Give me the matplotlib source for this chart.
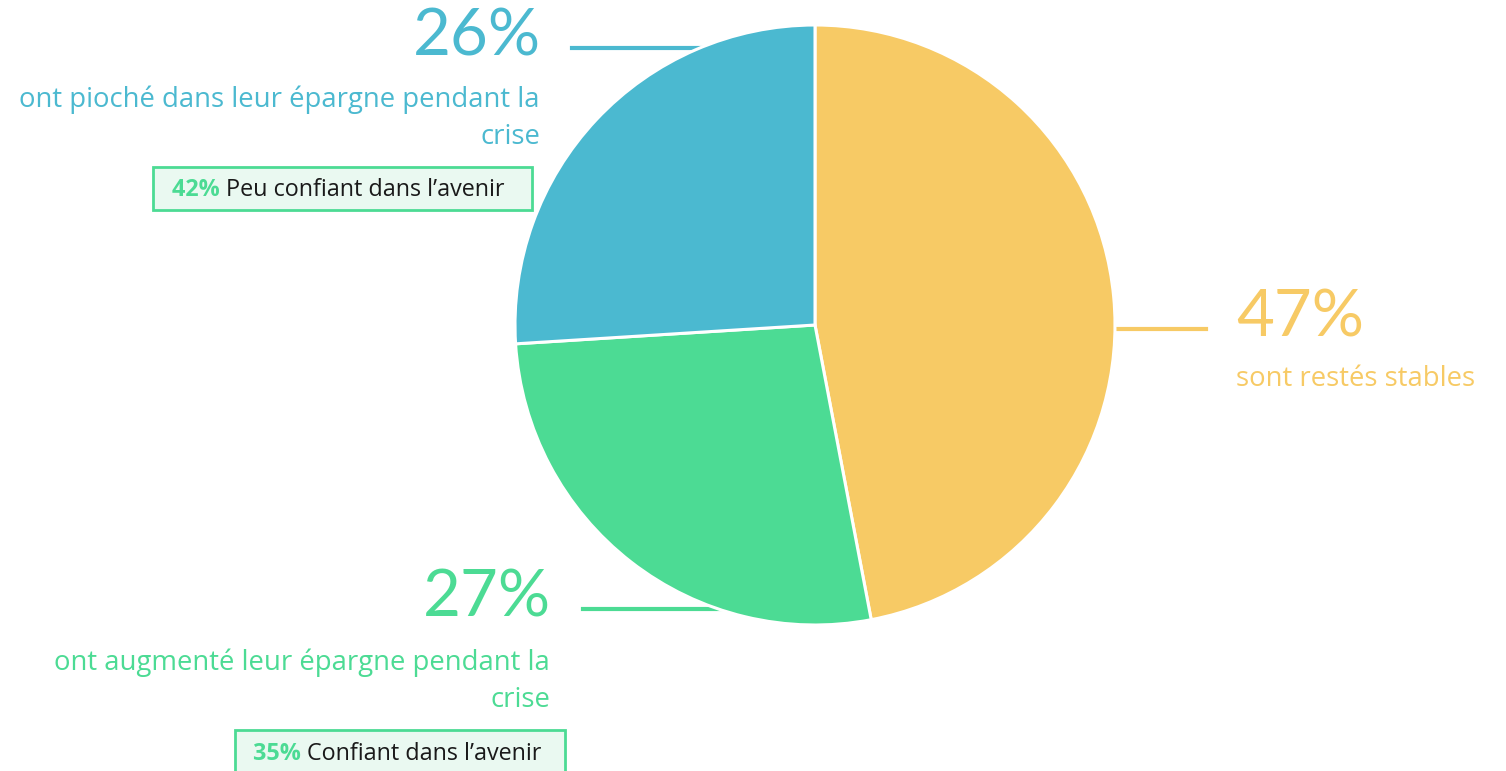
import matplotlib.pyplot as plt
from matplotlib.patches import Rectangle

plt.rcParams["font.family"] = ["Lato", "DejaVu Sans"]

labels = ["sont restés stables", "ont augmenté leur épargne pendant la\ncrise",
          "ont pioché dans leur épargne pendant la\ncrise"]
shares = [47, 27, 26]
colors = ["#F7CA65", "#4CDB94", "#4BB9D0"]
box_pct = ["42%", "35%"]
box_text = ["Peu confiant dans l\u2019avenir", "Confiant dans l\u2019avenir"]

W, H = 1506, 771
fig = plt.figure(figsize=(W / 100, H / 100), dpi=100)
ax = fig.add_axes([0, 0, 1, 1])


def Y(yp):
    # pixel row -> data y
    return H - yp


cx, cy, r = 815, Y(325), 300
ax.pie(shares, colors=colors, startangle=90, counterclock=False,
       center=(cx, cy), radius=r, frame=True,
       wedgeprops=dict(edgecolor="white", linewidth=2.2, zorder=2))
ax.set_xlim(0, W)
ax.set_ylim(0, H)
ax.set_aspect("equal")
ax.axis("off")

# leader lines (behind the pie)
ax.plot([1110, 1206], [Y(329), Y(329)], color=colors[0], lw=3, zorder=1)
ax.plot([583, 730], [Y(609), Y(609)], color=colors[1], lw=3, zorder=1)
ax.plot([572, 720], [Y(48), Y(48)], color=colors[2], lw=3, zorder=1)

# big percentages
ax.text(1236, Y(318), f"{shares[0]}%", color=colors[0], fontsize=47,
        ha="left", va="center")
ax.text(551, Y(598), f"{shares[1]}%", color=colors[1], fontsize=47,
        ha="right", va="center")
ax.text(541, Y(37), f"{shares[2]}%", color=colors[2], fontsize=47,
        ha="right", va="center")

# descriptions
desc = dict(fontsize=19.8, family=["Open Sans", "DejaVu Sans"])
ax.text(1236, Y(379), labels[0], color=colors[0], ha="left", va="center",
        **desc)
ax.text(550, Y(681), labels[1], color=colors[1], ha="right", va="center",
        multialignment="right", linespacing=1.42, **desc)
ax.text(540, Y(118), labels[2], color=colors[2], ha="right", va="center",
        multialignment="right", linespacing=1.42, **desc)

# boxes
boxes = [(153, 167, 379, 43, 172, 190), (235, 730, 330, 60, 253, 754)]
for (bx, by, bw, bh, tx, ty), pct, txt in zip(boxes, box_pct, box_text):
    ax.add_patch(Rectangle((bx, Y(by + bh)), bw, bh, facecolor="#EAF9F1",
                           edgecolor="#4CDB94", lw=2, zorder=3))
    t = ax.text(tx, Y(ty), pct + " ", color="#4CDB94", fontsize=16.8,
                family=["Open Sans", "DejaVu Sans"], fontweight="bold",
                ha="left", va="center", zorder=4)
    ax.annotate(txt, xycoords=t, xy=(1, 0.5), va="center", ha="left",
                color="#1a1a1a", fontsize=16.8,
                family=["Open Sans", "DejaVu Sans"], zorder=4)

fig.savefig("out.png", dpi=100)
